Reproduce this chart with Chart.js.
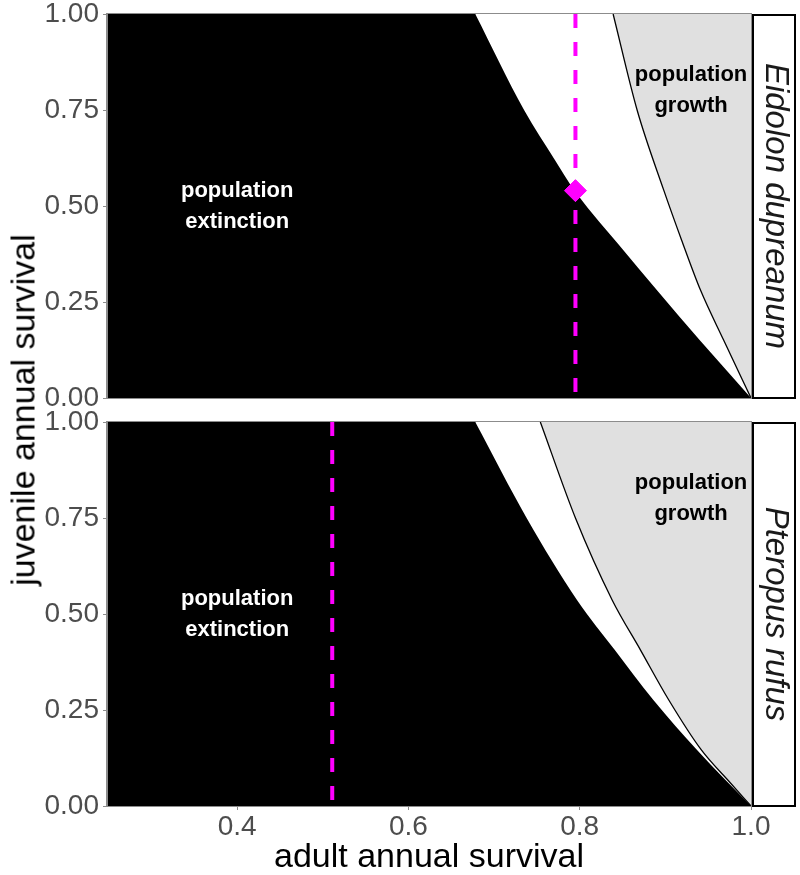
<!DOCTYPE html>
<html>
<head>
<meta charset="utf-8">
<title>juvenile vs adult annual survival</title>
<script src="https://cdn.jsdelivr.net/npm/chart.js"></script>
<style>
    body { margin: 0; background: #fff; }
    #wrap { position: relative; width: 800px; height: 875px; overflow: hidden; }
    #wrap canvas { position: absolute; left: 0; }
    #topPanel { top: 0; }
    #bottomPanel { top: 410px; }
    .ytitle {
        position: absolute; left: 23px; top: 410px;
        transform: translate(-50%, -50%) rotate(-90deg);
        white-space: nowrap; font: 34px "Liberation Sans", Arial, sans-serif; color: #000;
    }
</style>
</head>
<body>
<div id="wrap">
    <canvas id="topPanel" width="800" height="410"></canvas>
    <canvas id="bottomPanel" width="800" height="465"></canvas>
    <div class="ytitle">juvenile annual survival</div>
</div>

<script>
    const xTicks = [0.4, 0.6, 0.8, 1.0];
    const yTicks = [0, 0.25, 0.5, 0.75, 1];

    // Eidolon dupreanum: extinction edge and growth edge
    const eidExtAdult = [0.678, 0.735, 0.771, 0.795, 0.851, 0.890, 0.940, 1.0];
    const eidExtJuv = [1.0, 0.75, 0.62, 0.537, 0.385, 0.281, 0.151, 0];
    const eidGrowAdult = [0.839, 0.867, 0.898, 0.919, 0.941, 0.968, 1.0];
    const eidGrowJuv = [1.0, 0.75, 0.542, 0.411, 0.281, 0.151, 0];

    // Pteropus rufus
    const ptrExtAdult = [0.678, 0.738, 0.797, 0.841, 0.886, 0.937, 1.0];
    const ptrExtJuv = [1.0, 0.75, 0.536, 0.406, 0.276, 0.146, 0];
    const ptrGrowAdult = [0.754, 0.795, 0.838, 0.871, 0.904, 0.942, 0.976, 1.0];
    const ptrGrowJuv = [1.0, 0.75, 0.536, 0.406, 0.276, 0.146, 0.060, 0];

    // observed adult survival (dashed line) and juvenile estimate (diamond)
    const eidAdultObs = 0.795;
    const eidJuvObs = 0.54;
    const ptrAdultObs = 0.511;

    const X_MIN = 0.248, X_MAX = 1.0;
    const FONT = '"Liberation Sans", Arial, sans-serif';
    const AXIS_GREY = '#8c8c8c';
    const TICK_TEXT = '#4d4d4d';
    const MAGENTA = '#ff00ff';

    function pts(xs, ys) {
        return xs.map((x, i) => ({x: x, y: ys[i]}));
    }

    // black plot background, border, region labels and the facet strip
    const decor = {
        id: 'decor',
        beforeDraw(chart) {
            const a = chart.chartArea, ctx = chart.ctx;
            ctx.save();
            ctx.fillStyle = '#000';
            ctx.fillRect(a.left, a.top, a.right - a.left, a.bottom - a.top);
            ctx.restore();
        },
        afterDatasetsDraw(chart, args, opts) {
            const a = chart.chartArea, ctx = chart.ctx;
            const sx = chart.scales.x, sy = chart.scales.y;
            ctx.save();
            ctx.strokeStyle = AXIS_GREY;
            ctx.lineWidth = 1;
            ctx.strokeRect(a.left - 0.5, a.top - 0.5, a.right - a.left + 1, a.bottom - a.top + 1);
            ctx.font = 'bold 22px ' + FONT;
            ctx.textAlign = 'center';
            ctx.textBaseline = 'middle';
            opts.labels.forEach(l => {
                const px = sx.getPixelForValue(l.x), py = sy.getPixelForValue(l.y);
                ctx.fillStyle = l.color;
                l.lines.forEach((t, i) => ctx.fillText(t, px, py + (i - (l.lines.length - 1) / 2) * 31));
            });
            ctx.restore();
        },
        afterDraw(chart, args, opts) {
            const a = chart.chartArea, ctx = chart.ctx;
            ctx.save();
            ctx.fillStyle = '#fff';
            ctx.fillRect(a.right + 1, a.top, 45, a.bottom - a.top);
            ctx.strokeStyle = '#000';
            ctx.lineWidth = 2;
            ctx.strokeRect(a.right + 2, a.top + 1, 42, a.bottom - a.top - 1);
            ctx.translate(a.right + 24, (a.top + a.bottom) / 2);
            ctx.rotate(Math.PI / 2);
            ctx.font = 'italic 33px ' + FONT;
            ctx.fillStyle = '#1a1a1a';
            ctx.textAlign = 'center';
            ctx.textBaseline = 'middle';
            ctx.fillText(opts.strip, 0, 0);
            ctx.restore();
        }
    };

    function panel(canvasId, ext, grow, adultObs, juvObs, strip, showX, pad) {
        const datasets = [];
        if (juvObs !== null) {
            datasets.push({
                data: [{x: adultObs, y: juvObs}],
                showLine: false, pointStyle: 'rectRot', pointRadius: 11,
                backgroundColor: MAGENTA, borderColor: MAGENTA, borderWidth: 1
            });
        }
        datasets.push({
            data: [{x: adultObs, y: 1}, {x: adultObs, y: 0}],
            borderColor: MAGENTA, borderWidth: 4, borderDash: [14, 14],
            pointRadius: 0, fill: false
        });
        datasets.push({
            data: grow, borderColor: '#000', borderWidth: 1.3,
            backgroundColor: '#e0e0e0', fill: 'end', pointRadius: 0,
            cubicInterpolationMode: 'monotone'
        });
        datasets.push({
            data: ext, borderWidth: 0, borderColor: '#fff',
            backgroundColor: '#fff', fill: 'end', pointRadius: 0,
            cubicInterpolationMode: 'monotone'
        });

        return new Chart(document.getElementById(canvasId), {
            type: 'line',
            data: {datasets: datasets},
            plugins: [decor],
            options: {
                responsive: false,
                animation: false,
                events: [],
                layout: {padding: pad},
                plugins: {
                    legend: {display: false},
                    tooltip: {enabled: false},
                    decor: {
                        strip: strip,
                        labels: [
                            {x: 0.4, y: 0.5, lines: ['population', 'extinction'], color: '#fff'},
                            {x: 0.93, y: 0.8, lines: ['population', 'growth'], color: '#000'}
                        ]
                    }
                },
                scales: {
                    x: {
                        type: 'linear', min: X_MIN, max: X_MAX, display: showX,
                        afterBuildTicks: s => { s.ticks = xTicks.map(v => ({value: v})); },
                        afterFit: s => { s.height = showX ? 69 : 0; s.paddingLeft = 0; s.paddingRight = 0; },
                        grid: {drawOnChartArea: false, drawTicks: true, tickLength: 4, color: AXIS_GREY},
                        border: {display: true, color: AXIS_GREY},
                        ticks: {
                            color: TICK_TEXT, padding: 0, maxRotation: 0,
                            font: {size: 28, family: FONT},
                            callback: v => v.toFixed(1)
                        },
                        title: {
                            display: true, text: 'adult annual survival', color: '#000', padding: 0,
                            font: {size: 34, family: FONT, lineHeight: 1}
                        }
                    },
                    y: {
                        type: 'linear', min: 0, max: 1,
                        afterBuildTicks: s => { s.ticks = yTicks.map(v => ({value: v})); },
                        afterFit: s => { s.width = 107; s.paddingTop = 0; s.paddingBottom = 0; },
                        grid: {drawOnChartArea: false, drawTicks: true, tickLength: 4, color: AXIS_GREY},
                        border: {display: true, color: AXIS_GREY},
                        ticks: {
                            color: TICK_TEXT, padding: 4,
                            font: {size: 28, family: FONT},
                            callback: v => v.toFixed(2)
                        }
                    }
                }
            }
        });
    }

    panel('topPanel', pts(eidExtAdult, eidExtJuv), pts(eidGrowAdult, eidGrowJuv),
        eidAdultObs, eidJuvObs, 'Eidolon dupreanum', false,
        {top: 14, right: 49, bottom: 12, left: 0});
    panel('bottomPanel', pts(ptrExtAdult, ptrExtJuv), pts(ptrGrowAdult, ptrGrowJuv),
        ptrAdultObs, null, 'Pteropus rufus', true,
        {top: 12, right: 49, bottom: 0, left: 0});
</script>
</body>
</html>
